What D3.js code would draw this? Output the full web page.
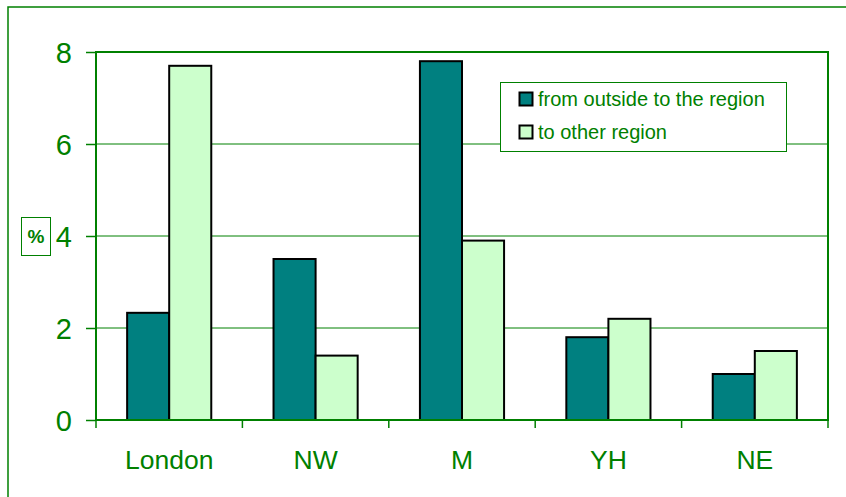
<!DOCTYPE html>
<html lang="en">
<head>
<meta charset="utf-8">
<script src="https://d3js.org/d3.v7.min.js"></script>
<style>
body { margin: 0; background: #fff; }
text { font-family: "Liberation Sans", Arial, sans-serif; fill: #008000; }
</style>
</head>
<body>
<script>
// data
const regions = ['London', 'NW', 'M', 'YH', 'NE'];
const fromOutside = [2.33, 3.5, 7.8, 1.8, 1.0];
const toOther = [7.7, 1.4, 3.9, 2.2, 1.5];
const yTicks = [0, 2, 4, 6, 8];
const seriesNames = ['from outside to the region', 'to other region'];

const width = 846, height = 497;
const green = '#008000';
const colors = ['#008080', '#ccffcc'];

const svg = d3.select('body').append('svg')
  .attr('width', width)
  .attr('height', height);

// outer frame (runs off the right/bottom edge)
svg.append('rect')
  .attr('x', 8).attr('y', 7)
  .attr('width', 860).attr('height', 520)
  .attr('fill', 'none').attr('stroke', green).attr('stroke-width', 1.5);

const plot = { left: 96, top: 52, right: 828, bottom: 420 };

const x = d3.scaleBand().domain(regions).range([plot.left, plot.right]);
const y = d3.scaleLinear().domain([0, 8]).range([plot.bottom, plot.top]);

// gridlines
svg.append('g').selectAll('line')
  .data(yTicks.filter(d => d > 0))
  .enter().append('line')
  .attr('x1', plot.left).attr('x2', plot.right)
  .attr('y1', d => y(d)).attr('y2', d => y(d))
  .attr('stroke', green).attr('stroke-width', 1);

// legend box
const lg = svg.append('g');
lg.append('rect')
  .attr('x', 500.5).attr('y', 82.5).attr('width', 286).attr('height', 69)
  .attr('fill', '#fff').attr('stroke', green).attr('stroke-width', 1);
seriesNames.forEach((name, i) => {
  const yy = 92 + i * 33;
  lg.append('rect')
    .attr('x', 519.5).attr('y', yy + 0.5).attr('width', 13).attr('height', 13)
    .attr('fill', colors[i]).attr('stroke', '#000').attr('stroke-width', 2);
  lg.append('text')
    .attr('x', 538).attr('y', yy + 14)
    .attr('font-size', 20)
    .text(name);
});

// bars
const inner = d3.scaleBand().domain([0, 1])
  .range([0, x.bandwidth()]).paddingOuter(0.74).paddingInner(0);

const groups = svg.append('g').selectAll('g')
  .data(regions)
  .enter().append('g')
  .attr('transform', d => `translate(${x(d)},0)`);

groups.selectAll('rect')
  .data((d, i) => [fromOutside[i], toOther[i]])
  .enter().append('rect')
  .attr('x', (d, j) => inner(j))
  .attr('width', inner.bandwidth())
  .attr('y', d => y(d))
  .attr('height', d => y(0) - y(d))
  .attr('fill', (d, j) => colors[j])
  .attr('stroke', '#000')
  .attr('stroke-width', 2);

// axes frame
svg.append('rect')
  .attr('x', plot.left).attr('y', plot.top)
  .attr('width', plot.right - plot.left).attr('height', plot.bottom - plot.top)
  .attr('fill', 'none').attr('stroke', green).attr('stroke-width', 2);

// y axis
const yAxis = svg.append('g')
  .attr('transform', `translate(${plot.left},0)`)
  .call(d3.axisLeft(y).tickValues(yTicks).tickSize(10).tickPadding(14).tickFormat(d3.format('d')));
yAxis.select('.domain').remove();
yAxis.selectAll('line').attr('stroke', green).attr('stroke-width', 1.5);
yAxis.selectAll('text').attr('font-size', 29).attr('fill', green).attr('dy', '0.36em');

// x axis: ticks at category boundaries
const bounds = regions.map(r => x(r)).concat([plot.right]);
svg.append('g').selectAll('line')
  .data(bounds)
  .enter().append('line')
  .attr('x1', d => d).attr('x2', d => d)
  .attr('y1', plot.bottom).attr('y2', plot.bottom + 8)
  .attr('stroke', green).attr('stroke-width', 1.5);

svg.append('g').selectAll('text')
  .data(regions)
  .enter().append('text')
  .attr('x', d => x(d) + x.bandwidth() / 2)
  .attr('y', 469)
  .attr('text-anchor', 'middle')
  .attr('font-size', 26.5)
  .text(d => d);

// "%" axis label box
svg.append('rect')
  .attr('x', 21.5).attr('y', 217.5).attr('width', 29).attr('height', 38)
  .attr('fill', '#fff').attr('stroke', green).attr('stroke-width', 1);
svg.append('text')
  .attr('x', 36).attr('y', 243)
  .attr('text-anchor', 'middle')
  .attr('font-family', '"Liberation Serif", "Times New Roman", serif')
  .attr('font-weight', 'bold')
  .attr('font-size', 19)
  .text('%');
</script>
</body>
</html>
